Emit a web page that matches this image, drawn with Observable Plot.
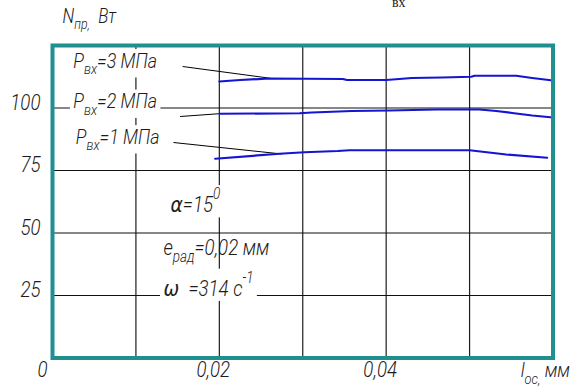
<!DOCTYPE html>
<html><head><meta charset="utf-8">
<script src="https://cdn.jsdelivr.net/npm/d3@7"></script>
<script src="https://cdn.jsdelivr.net/npm/@observablehq/plot@0.6"></script>
<style>
html,body{margin:0;padding:0;background:#fff;}
#chart svg{display:block;}
</style>
</head><body><div id="chart"></div>
<script>
// ---------- data ----------
// curve P_вх = 3 МПа
const xP3 = [0.02, 0.0225, 0.026, 0.0348, 0.0353, 0.04, 0.0431, 0.0467, 0.0502, 0.0506, 0.0556, 0.0575, 0.06];
const nP3 = [110.6, 111.2, 111.8, 111.6, 111.2, 111.2, 112.0, 112.2, 112.5, 112.9, 112.9, 112.0, 111.0];
// curve P_вх = 2 МПа
const xP2 = [0.02, 0.0296, 0.0311, 0.0359, 0.0404, 0.046, 0.0512, 0.0532, 0.0551, 0.0575, 0.06];
const nP2 = [97.7, 97.9, 98.2, 98.8, 99.0, 99.4, 99.4, 98.8, 98.0, 97.0, 96.2];
// curve P_вх = 1 МПа
const xP1 = [0.0195, 0.0272, 0.0302, 0.0342, 0.0356, 0.05, 0.0544, 0.0593];
const nP1 = [79.7, 81.7, 82.3, 82.8, 83.1, 83.1, 81.4, 80.1];

const seriesNames = ["3 МПа", "2 МПа", "1 МПа"];
const seriesLabels = ["P_{вх}=3 МПа", "P_{вх}=2 МПа", "P_{вх}=1 МПа"];
const labelX = [0.0025, 0.0025, 0.0028];
const labelY = [116.2, 100, 85.8];
// leader lines from label to curve
const leaderX1 = [0.0156, 0.0153, 0.0145];
const leaderY1 = [116.6, 96.6, 86.2];
const leaderX2 = [0.0261, 0.0199, 0.0275];
const leaderY2 = [111.9, 97.7, 81.6];

const paramLabels = ["α=15^{0}", "e_{рад}=0,02 мм", "ω\u2002=314 c^{-1}"];
const paramX = [0.01415, 0.0133, 0.0133];
const paramY = [58.4, 41.4, 25];

const gridXTicks = [0.01, 0.02, 0.03, 0.04, 0.05];
const gridYTicks = [25, 50, 75, 100];
const yTickLabels = ["25", "50", "75", "100"];
const xTickValues = [0.02, 0.04];
const xTickLabels = ["0,02", "0,04"];
const originLabel = "0";
const yTitle = "N_{пр,}\u2002Вт";
const xTitle = "l_{ос,} мм";
const topFragment = "вх";

// ---------- build tables ----------
const seriesX = [xP3, xP2, xP1];
const seriesY = [nP3, nP2, nP1];
const curveRows = seriesNames.flatMap((name, s) =>
  seriesX[s].map((x, i) => ({series: name, x, y: seriesY[s][i]})));
const labelRows = seriesLabels.map((t, i) => ({t, x: labelX[i], y: labelY[i]}));
const leaderRows = leaderX1.map((x1, i) => ({x1, y1: leaderY1[i], x2: leaderX2[i], y2: leaderY2[i]}));
const paramRows = paramLabels.map((t, i) => ({t, x: paramX[i], y: paramY[i]}));
// labels that sit on a white patch (break the grid lines behind them)
const masked = new Set([...seriesLabels, paramLabels[0], paramLabels[2]]);

const FONT = "Roboto, 'Liberation Sans', sans-serif";
const GREEK_FONT = "'DejaVu Sans', 'Noto Sans', sans-serif";
const INK = "#1c1c1c";
const TEAL = "#1f8f8f";
const BLUE = "#1414d2";
const txt = (size) => ({fontSize: size, fontStyle: "italic", fontWeight: 300, fontFamily: FONT, fill: INK});

const chart = Plot.plot({
  width: 570,
  height: 389,
  marginLeft: 52,
  marginRight: 17.5,
  marginTop: 45,
  marginBottom: 31.5,
  x: {domain: [0, 0.06], axis: null},
  y: {domain: [0, 125], axis: null},
  style: {fontFamily: FONT, background: "white", overflow: "visible"},
  marks: [
    Plot.gridX(gridXTicks, {stroke: "#1e1e1e", strokeOpacity: 1, strokeWidth: 1.2}),
    Plot.gridY(gridYTicks, {stroke: "#111", strokeOpacity: 1, strokeWidth: 1.2}),
    Plot.text(labelRows, {x: "x", y: "y", text: "t", textAnchor: "start", ...txt(21)}),
    Plot.text(paramRows, {x: "x", y: "y", text: "t", textAnchor: "start", ...txt(22)}),
    Plot.link(leaderRows, {x1: "x1", y1: "y1", x2: "x2", y2: "y2", stroke: "black", strokeWidth: 1}),
    Plot.line(curveRows, {x: "x", y: "y", z: "series", stroke: BLUE, strokeWidth: 2.2}),
    Plot.frame({stroke: TEAL, strokeWidth: 4}),
    // y tick labels
    Plot.text(gridYTicks, {x: 0, y: d => d, text: (d, i) => yTickLabels[i], textAnchor: "end", dx: -12, dy: 1.5, ...txt(22)}),
    // x tick labels
    Plot.text(xTickValues, {x: d => d, y: 0, text: (d, i) => xTickLabels[i], dx: -6, dy: 19, ...txt(22)}),
    Plot.text([originLabel], {x: 0, y: 0, text: d => d, dx: -10, dy: 19, ...txt(22)}),
    // axis titles
    Plot.text([yTitle], {frameAnchor: "top-left", text: d => d, textAnchor: "start", dx: 10, dy: -23, ...txt(20)}),
    Plot.text([xTitle], {frameAnchor: "bottom-right", text: d => d, textAnchor: "end", dx: 17, dy: 19, ...txt(21)}),
    Plot.text([topFragment], {frameAnchor: "top", text: d => d, dx: 96, dy: -48,
      fontSize: 14, fontFamily: "'Liberation Serif', serif", fill: "#222"})
  ]
});
document.getElementById("chart").appendChild(chart);

// ---------- sub/superscripts, narrow drafting lettering, white patches ----------
const NS = "http://www.w3.org/2000/svg";
function richify(root) {
  root.querySelectorAll("text").forEach(t => {
    const s = t.textContent;
    const isMasked = masked.has(s);
    if (/[_^]\{/.test(s) || /[α-ω]/.test(s)) {
      const fs = parseFloat(getComputedStyle(t).fontSize) || 20;
      while (t.firstChild) t.removeChild(t.firstChild);
      const re = /([_^])\{([^}]*)\}/g;
      let last = 0, m, shift = 0;
      const add = (str, newShift, size) => {
        // Greek letters in a font that draws them in the drafting shape
        str.split(/([α-ω])/).filter(p => p.length).forEach(part => {
          const ts = document.createElementNS(NS, "tspan");
          const dy = newShift - shift;
          if (dy) ts.setAttribute("dy", dy.toFixed(2));
          if (size) ts.setAttribute("font-size", size.toFixed(2));
          if (/^[α-ω]$/.test(part)) ts.setAttribute("font-family", GREEK_FONT);
          ts.textContent = part;
          t.appendChild(ts);
          shift = newShift;
        });
      };
      while ((m = re.exec(s))) {
        if (m.index > last) add(s.slice(last, m.index), 0);
        if (m[1] === "_") add(m[2], fs * 0.32, fs * 0.72);
        else add(m[2], -fs * 0.58, fs * 0.72);
        last = re.lastIndex;
      }
      if (last < s.length) add(s.slice(last), 0);
    }
    if (s === topFragment) return;
    // narrow the lettering horizontally about its anchor
    let tr = t.getAttribute("transform") || "";
    const xa = t.getAttribute("x"), ya = t.getAttribute("y");
    if (xa !== null || ya !== null) {
      tr += ` translate(${+xa || 0},${+ya || 0})`;
      t.removeAttribute("x"); t.removeAttribute("y");
    }
    tr += " scale(0.85,1)";
    t.setAttribute("transform", tr.trim());
    if (isMasked) {
      const b = t.getBBox();
      const r = document.createElementNS(NS, "rect");
      r.setAttribute("x", b.x - 4); r.setAttribute("y", b.y + 1);
      r.setAttribute("width", b.width + 8); r.setAttribute("height", b.height - 1);
      r.setAttribute("fill", "white"); r.setAttribute("stroke", "none");
      r.setAttribute("transform", tr.trim());
      t.parentNode.insertBefore(r, t);
    }
  });
}
richify(chart);
</script>
</body></html>
